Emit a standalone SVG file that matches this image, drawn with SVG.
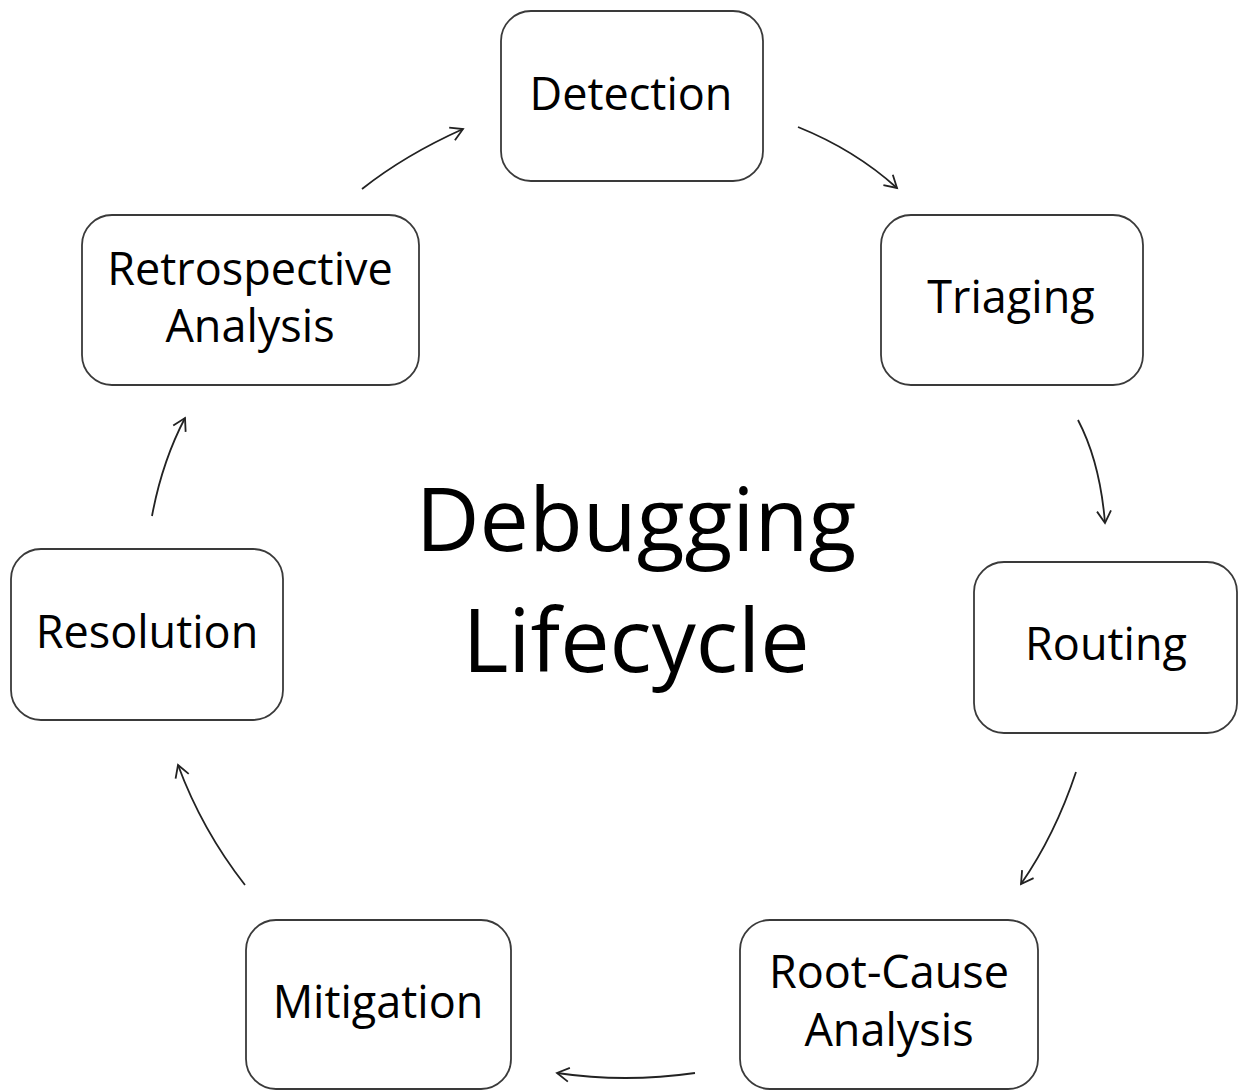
<svg xmlns="http://www.w3.org/2000/svg" width="1238" height="1090" viewBox="0 0 1238 1090">
<style>
.box{fill:#fff;stroke:#3a3a3a;stroke-width:1.8}
.lbl{font-family:"Open Sans","Liberation Sans",sans-serif;font-size:45px;fill:#000;text-anchor:middle}
.title{font-family:"Open Sans","Liberation Sans",sans-serif;font-size:88px;fill:#000;text-anchor:middle}
.arr{fill:none;stroke:#222;stroke-width:1.8;marker-end:url(#ah)}
</style>
<defs>
<marker id="ah" markerUnits="userSpaceOnUse" markerWidth="20" markerHeight="20" refX="13" refY="8" orient="auto" viewBox="0 0 20 16">
<path d="M1,1 L13,8 L1,15" fill="none" stroke="#222" stroke-width="1.8"/>
</marker>
</defs>
<rect width="1238" height="1090" fill="#fff"/>
<g id="connectors">
<path class="arr" d="M362,189 Q405,155 463,129"/>
<path class="arr" d="M798,127 Q855,150 897,188"/>
<path class="arr" d="M1078,420 Q1100,462 1105,523"/>
<path class="arr" d="M1076,772 Q1055,835 1021,884"/>
<path class="arr" d="M695,1073 Q625,1083 557,1073"/>
<path class="arr" d="M245,885 Q202,830 178,765"/>
<path class="arr" d="M152,516 Q162,462 185,418"/>
</g>
<g id="detection"><rect class="box" x="501" y="11" width="262" height="170" rx="30"/><text class="lbl" x="631" y="110">Detection</text></g>
<g id="triaging"><rect class="box" x="881" y="215" width="262" height="170" rx="30"/><text class="lbl" x="1011" y="313">Triaging</text></g>
<g id="routing"><rect class="box" x="974" y="562" width="263" height="171" rx="30"/><text class="lbl" x="1106" y="660">Routing</text></g>
<g id="root-cause"><rect class="box" x="740" y="920" width="298" height="169" rx="30"/><text class="lbl" x="889" y="988">Root-Cause</text><text class="lbl" x="889" y="1046">Analysis</text></g>
<g id="mitigation"><rect class="box" x="246" y="920" width="265" height="169" rx="30"/><text class="lbl" x="378" y="1018">Mitigation</text></g>
<g id="resolution"><rect class="box" x="11" y="549" width="272" height="171" rx="30"/><text class="lbl" x="147" y="648">Resolution</text></g>
<g id="retrospective"><rect class="box" x="82" y="215" width="337" height="170" rx="30"/><text class="lbl" x="250" y="285">Retrospective</text><text class="lbl" x="250" y="342">Analysis</text></g>
<g id="title"><text class="title" x="636" y="551">Debugging</text><text class="title" x="636" y="672">Lifecycle</text></g>
</svg>
